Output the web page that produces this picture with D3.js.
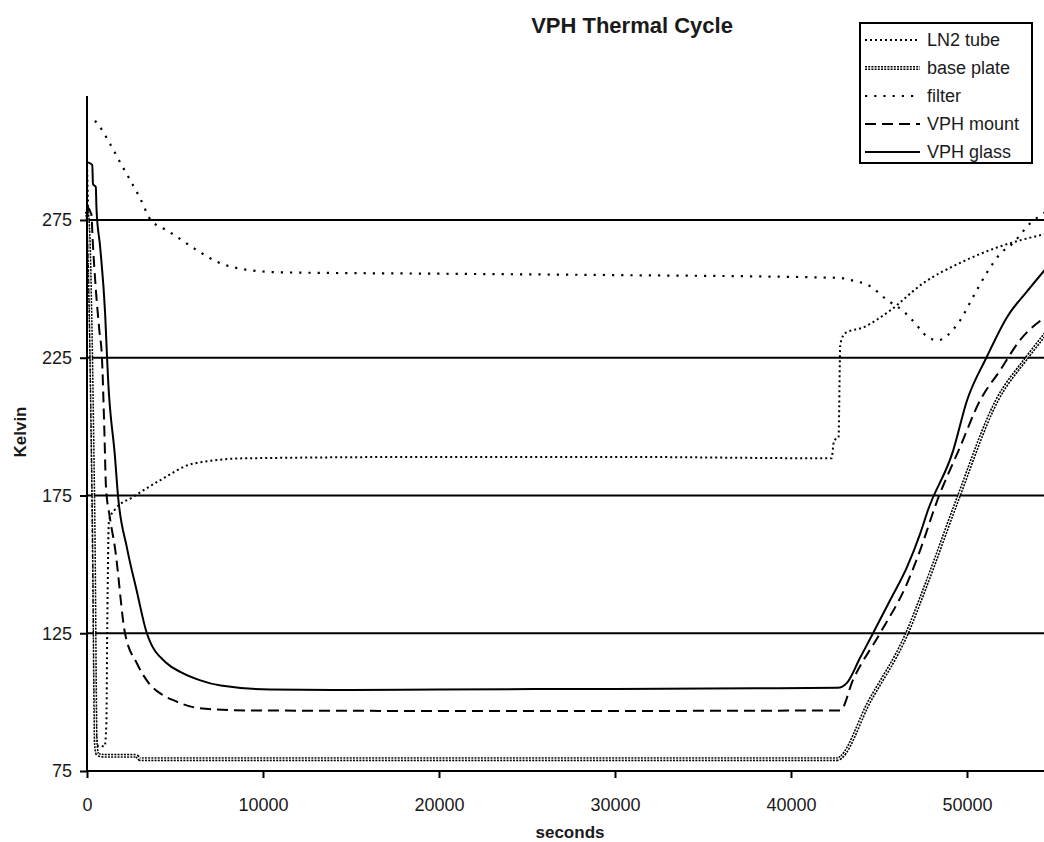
<!DOCTYPE html>
<html>
<head>
<meta charset="utf-8">
<script src="https://cdn.jsdelivr.net/npm/d3@7"></script>
<style>
  body { margin: 0; background: #fff; }
  text { font-family: "Liberation Sans", Arial, sans-serif; fill: #1a1a1a; }
</style>
</head>
<body>
<div id="chart"></div>
<script>
// time (s), temperature (K)
const ln2Tube = [[0,295],[60,280],[120,255],[250,200],[400,120],[500,90],[650,84],[1000,84],[1100,92],
  [1150,127],[1250,166],[1600,170],[2600,174.4],[4150,180.5],[6000,186.5],[9000,188.5],[20000,189],
  [30000,189],[42300,188.5],[42450,195],[42700,196],[42800,230],[43100,234],[44100,236],[45600,242],
  [47500,252],[49800,260],[51700,265],[54500,270]];
const basePlate = [[0,278],[100,268],[200,240],[300,200],[400,150],[450,110],[500,85],[600,81],[1000,80.5],
  [2800,80.5],[3000,79.3],[42600,79.3],[44490,100.7],[46590,125],[47700,143],[49430,173],[51700,209.5],
  [53400,225],[54500,234]];
const filter = [[455,311],[740,308.7],[1300,302.7],[1875,296],[2440,289.6],[3010,283],[3620,275],[4320,272],
  [4720,270.5],[6250,264],[7500,259.5],[9000,257],[11000,256],[20000,255.5],[30000,255],[42700,254],
  [43520,253],[44490,251],[45450,246],[46360,242],[47160,236.7],[47500,234],[48350,231.3],[48860,233],
  [49600,238.5],[50340,247],[51140,256],[51900,262.8],[52600,266.5],[53580,273.7],[54500,278]];
const vphMount = [[0,280],[250,277],[320,268],[500,250],[700,235],[850,225],[980,200],[1080,178],[1300,167],
  [1590,156],[2160,125],[2840,114],[3500,107],[4200,103],[4900,100.7],[6400,97.8],[9000,97],[20000,96.8],
  [30000,96.8],[42800,97],[43520,108],[45060,125],[46590,143],[47330,155],[48300,173],[49600,192.5],
  [50740,209.5],[51880,220.4],[53000,231.3],[54500,240]];
const vphGlass = [[0,296],[300,295],[340,288],[500,287],[540,279],[750,265],[1030,241],[1140,225],[1200,217],
  [1590,189],[1760,175],[2270,156],[2840,140],[3400,125],[4550,114],[5300,111],[6400,108],[7600,106],
  [10400,104.6],[15000,104.4],[20000,104.6],[30000,104.8],[38000,105],[42650,105.2],[43180,107],
  [43920,116],[44660,125],[45630,137],[46590,149],[47330,161],[47800,170],[49200,191],[50000,209.5],
  [51100,225],[52300,240],[53400,249],[54500,257.5]];

const seriesNames = ["LN2 tube", "base plate", "filter", "VPH mount", "VPH glass"];
const seriesData = [ln2Tube, basePlate, filter, vphMount, vphGlass];
const xTicks = [0, 10000, 20000, 30000, 40000, 50000];
const yTicks = [75, 125, 175, 225, 275];

const width = 1044, height = 842;
const plot = { left: 87, right: 1055, top: 96, bottom: 771 };

const x = d3.scaleLinear().domain([0, 55000]).range([plot.left, plot.right]);
const y = d3.scaleLinear().domain([75, 320]).range([plot.bottom, plot.top]);

const svg = d3.select("#chart").append("svg")
    .attr("width", width)
    .attr("height", height);

// gridlines
svg.append("g")
  .selectAll("line")
  .data(yTicks.slice(1))
  .enter().append("line")
    .attr("x1", plot.left).attr("x2", plot.right)
    .attr("y1", d => y(d)).attr("y2", d => y(d))
    .attr("stroke", "#000").attr("stroke-width", 2);

const line = d3.line().curve(d3.curveMonotoneX).x(d => x(d[0])).y(d => y(d[1]));

const styles = [
  { width: 2, dash: "2,3" },          // LN2 tube
  { width: 4, dash: "2,1.2", hollow: true }, // base plate
  { width: 2.2, dash: "2.2,7" },      // filter
  { width: 2, dash: "11,6" },         // VPH mount
  { width: 2, dash: null }            // VPH glass
];

seriesData.forEach((data, i) => {
  const s = styles[i];
  svg.append("path")
      .datum(data)
      .attr("fill", "none")
      .attr("stroke", "#000")
      .attr("stroke-width", s.width)
      .attr("stroke-dasharray", s.dash)
      .attr("d", line);
  if (s.hollow) {
    svg.append("path")
        .datum(data)
        .attr("fill", "none")
        .attr("stroke", "#fff")
        .attr("stroke-width", 1)
        .attr("d", line);
  }
});

// axes
const xAxis = svg.append("g")
    .attr("transform", `translate(0,${plot.bottom})`)
    .call(d3.axisBottom(x).tickValues(xTicks).tickSize(7).tickPadding(20).tickFormat(d3.format("d")));
const yAxis = svg.append("g")
    .attr("transform", `translate(${plot.left},0)`)
    .call(d3.axisLeft(y).tickValues(yTicks).tickSize(7).tickPadding(8));

[xAxis, yAxis].forEach(g => {
  g.select(".domain").attr("stroke", "#000").attr("stroke-width", 2);
  g.selectAll(".tick line").attr("stroke", "#000").attr("stroke-width", 2);
  g.selectAll(".tick text").attr("font-size", 18).attr("fill", "#1a1a1a")
    .attr("font-family", "Liberation Sans, Arial, sans-serif");
});
yAxis.select(".domain").attr("d", `M0,${plot.bottom}V${plot.top}`);
xAxis.select(".domain").attr("d", `M${plot.left},0H${plot.right}`);

svg.append("text")
    .attr("x", 632).attr("y", 33)
    .attr("text-anchor", "middle")
    .attr("font-size", 22).attr("font-weight", "bold")
    .text("VPH Thermal Cycle");

svg.append("text")
    .attr("x", 570).attr("y", 838)
    .attr("text-anchor", "middle")
    .attr("font-size", 17).attr("font-weight", "bold")
    .text("seconds");

svg.append("text")
    .attr("transform", "translate(26,432) rotate(-90)")
    .attr("text-anchor", "middle")
    .attr("font-size", 17).attr("font-weight", "bold")
    .text("Kelvin");

// legend
const legend = svg.append("g").attr("transform", "translate(860,23)");
legend.append("rect")
    .attr("width", 172).attr("height", 140)
    .attr("fill", "#fff").attr("stroke", "#000").attr("stroke-width", 2);

const items = legend.selectAll(".legend")
    .data(seriesNames)
    .enter().append("g")
    .attr("class", "legend")
    .attr("transform", (d, i) => `translate(0,${17 + i * 28})`);

items.append("line")
    .attr("x1", 5).attr("x2", 60)
    .attr("stroke", "#000")
    .attr("stroke-width", (d, i) => styles[i].width)
    .attr("stroke-dasharray", (d, i) => styles[i].dash);
items.filter((d, i) => styles[i].hollow).append("line")
    .attr("x1", 5).attr("x2", 60)
    .attr("stroke", "#fff").attr("stroke-width", 1);

items.append("text")
    .attr("x", 67).attr("y", 6)
    .attr("font-size", 18)
    .text(d => d);
</script>
</body>
</html>
